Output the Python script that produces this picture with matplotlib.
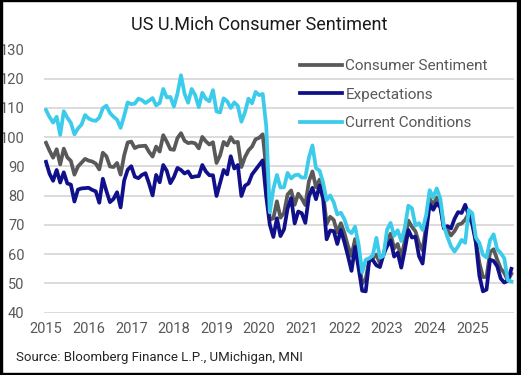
import numpy as np
import matplotlib.pyplot as plt
from matplotlib.patches import Rectangle

#---------------------------------------------------------
#---------------------------------------------------------

## Dados (mensal, jan/2015 - dez/2025)
years = np.arange(2015, 2026)

sentiment = [98.1, 95.4, 93.0, 95.9, 90.7, 96.1, 93.1, 91.9, 87.2, 90.0, 91.3, 92.6,
             92.0, 91.7, 91.0, 89.0, 94.7, 93.5, 90.0, 89.8, 91.2, 87.2, 93.8, 98.2,
             98.5, 96.3, 96.9, 97.0, 97.1, 95.0, 93.4, 96.8, 95.1, 100.7, 98.5, 95.9,
             95.7, 99.7, 101.4, 98.8, 98.0, 98.2, 97.9, 96.2, 100.1, 98.6, 97.5, 98.3,
             91.2, 93.8, 98.4, 97.2, 100.0, 98.2, 98.4, 89.8, 93.2, 95.5, 96.8, 99.3,
             99.8, 101.0, 89.1, 71.8, 72.3, 78.1, 72.5, 74.1, 80.4, 81.8, 76.9, 80.7,
             79.0, 76.8, 84.9, 88.3, 82.9, 85.5, 81.2, 70.3, 72.8, 71.7, 67.4, 70.6,
             67.2, 62.8, 59.4, 65.2, 58.4, 50.0, 51.5, 58.2, 58.6, 59.9, 56.8, 59.7,
             64.9, 67.0, 62.0, 63.5, 59.0, 64.4, 71.5, 69.4, 67.8, 63.8, 61.3, 69.7,
             79.0, 76.9, 79.4, 77.2, 69.1, 68.2, 66.4, 67.9, 70.1, 70.5, 71.8, 74.0,
             71.7, 64.7, 57.0, 52.2, 52.2, 60.7, 61.7, 58.2, 55.1, 53.6, 51.0, 53.3]

expectations = [91.6, 87.5, 85.1, 88.8, 84.5, 88.0, 84.2, 83.8, 78.0, 82.1, 82.5, 82.6,
                82.7, 82.0, 81.5, 77.6, 85.8, 81.6, 77.8, 78.9, 81.2, 76.0, 85.2, 88.9,
                90.1, 86.5, 86.0, 87.1, 87.7, 84.2, 80.1, 87.1, 84.6, 90.5, 88.5, 84.3,
                86.4, 89.5, 88.8, 87.6, 88.3, 86.3, 86.6, 86.7, 90.5, 88.3, 87.0, 87.0,
                79.9, 84.4, 88.8, 87.3, 93.5, 89.3, 90.5, 79.9, 83.4, 84.2, 87.3, 88.9,
                90.5, 92.1, 79.7, 70.1, 65.9, 72.3, 66.2, 68.5, 75.6, 79.2, 70.5, 74.6,
                74.0, 70.7, 79.7, 82.7, 78.8, 83.5, 79.0, 65.1, 68.1, 67.9, 63.5, 68.3,
                64.1, 59.4, 54.3, 62.5, 55.2, 47.5, 47.3, 58.0, 58.0, 56.2, 55.6, 59.9,
                62.7, 64.7, 59.2, 60.5, 55.4, 61.5, 68.3, 65.7, 66.0, 59.3, 56.8, 67.4,
                77.1, 75.2, 77.4, 76.0, 68.8, 69.6, 68.8, 72.1, 74.4, 74.1, 76.9, 73.3,
                70.2, 64.0, 52.6, 47.3, 47.9, 58.1, 57.7, 55.9, 51.7, 50.3, 51.0, 55.0]

current = [109.3, 106.9, 105.0, 107.0, 100.8, 108.9, 106.7, 104.9, 101.0, 103.0, 104.3, 107.6,
           106.4, 105.8, 105.6, 106.7, 109.9, 110.8, 108.3, 107.0, 106.0, 103.2, 107.3, 111.9,
           111.3, 111.5, 113.2, 112.7, 111.7, 112.5, 113.4, 110.9, 111.7, 116.5, 113.6, 113.8,
           110.5, 114.9, 121.2, 114.9, 111.8, 116.5, 114.4, 110.3, 115.2, 113.1, 112.3, 116.1,
           108.8, 108.5, 113.3, 112.3, 110.0, 111.9, 110.7, 105.3, 108.5, 113.2, 111.6, 115.5,
           114.4, 114.8, 103.7, 74.3, 82.3, 87.1, 82.8, 82.9, 87.8, 85.9, 87.0, 87.2,
           86.2, 86.2, 93.0, 97.2, 89.4, 88.6, 84.5, 78.5, 80.1, 77.7, 73.6, 74.2,
           72.0, 68.2, 67.2, 69.4, 63.3, 53.8, 58.1, 58.6, 59.7, 65.6, 58.8, 59.4,
           68.4, 70.7, 66.3, 68.2, 64.5, 69.0, 76.6, 75.7, 69.8, 70.6, 68.3, 73.3,
           81.9, 79.4, 82.5, 79.0, 69.6, 65.9, 62.7, 60.9, 62.7, 64.9, 63.9, 75.1,
           74.0, 65.7, 63.8, 59.8, 58.9, 64.8, 66.8, 61.7, 60.4, 58.6, 51.1, 50.7]

# eixo do tempo em anos decimais
t = 2015 + np.arange(len(sentiment)) / 12

#---------------------------------------------------------
#---------------------------------------------------------

plt.rcParams['font.family'] = ['Roboto', 'DejaVu Sans']
grey_txt = '#595959'

fig = plt.figure(figsize=(5.21, 3.75), dpi=100)
ax = fig.add_axes([44/521, 1 - 312.7/375, 470/521, (312.7 - 49.5)/375])

ax.plot(t, sentiment, color='#595959', lw=2.7, label='Consumer Sentiment', solid_joinstyle='round')
ax.plot(t, expectations, color='#10108A', lw=2.7, label='Expectations', solid_joinstyle='round')
ax.plot(t, current, color='#3CCBEA', lw=2.7, label='Current Conditions', solid_joinstyle='round')

ax.set_ylim(40, 130)
ax.set_yticks(np.arange(40, 131, 10))
ax.set_xlim(2015 - 2/42.63, 2015 - 2/42.63 + 470/42.63)
ax.set_xticks(years)
ax.set_xticklabels([str(y) for y in years])

ax.grid(axis='y', color='#D9D9D9', lw=1.3)
ax.set_axisbelow(True)
for s in ax.spines.values():
    s.set_visible(False)
ax.tick_params(length=0, labelsize=10.5, labelcolor=grey_txt)
ax.tick_params(axis='y', pad=14)
ax.tick_params(axis='x', pad=7)

ax.legend(loc='upper left', bbox_to_anchor=(292/521, 1 - 51.5/375), bbox_transform=fig.transFigure,
          frameon=False, fontsize=11, handlelength=2.8, handletextpad=0.2,
          labelspacing=0.95, borderpad=0, labelcolor=grey_txt)

fig.text(259/521, 1 - 25/375, 'US U.Mich Consumer Sentiment', ha='center', va='center',
         fontsize=13, color='#1a1a1a')
fig.text(16/521, 1 - 357/375, 'Source: Bloomberg Finance L.P., UMichigan, MNI',
         ha='left', va='center', fontsize=9.5, color='#262626')

# moldura preta
fig.patches.append(Rectangle((0, 0), 2/521, 1, transform=fig.transFigure, color='black'))
fig.patches.append(Rectangle((0, 1 - 1.2/375), 1, 1.2/375, transform=fig.transFigure, color='black'))
fig.patches.append(Rectangle((1 - 4.3/521, 0), 4.3/521, 1, transform=fig.transFigure, color='black'))
fig.patches.append(Rectangle((0, 0), 1, 2.3/375, transform=fig.transFigure, color='black'))

plt.savefig('out.png', dpi=100)
